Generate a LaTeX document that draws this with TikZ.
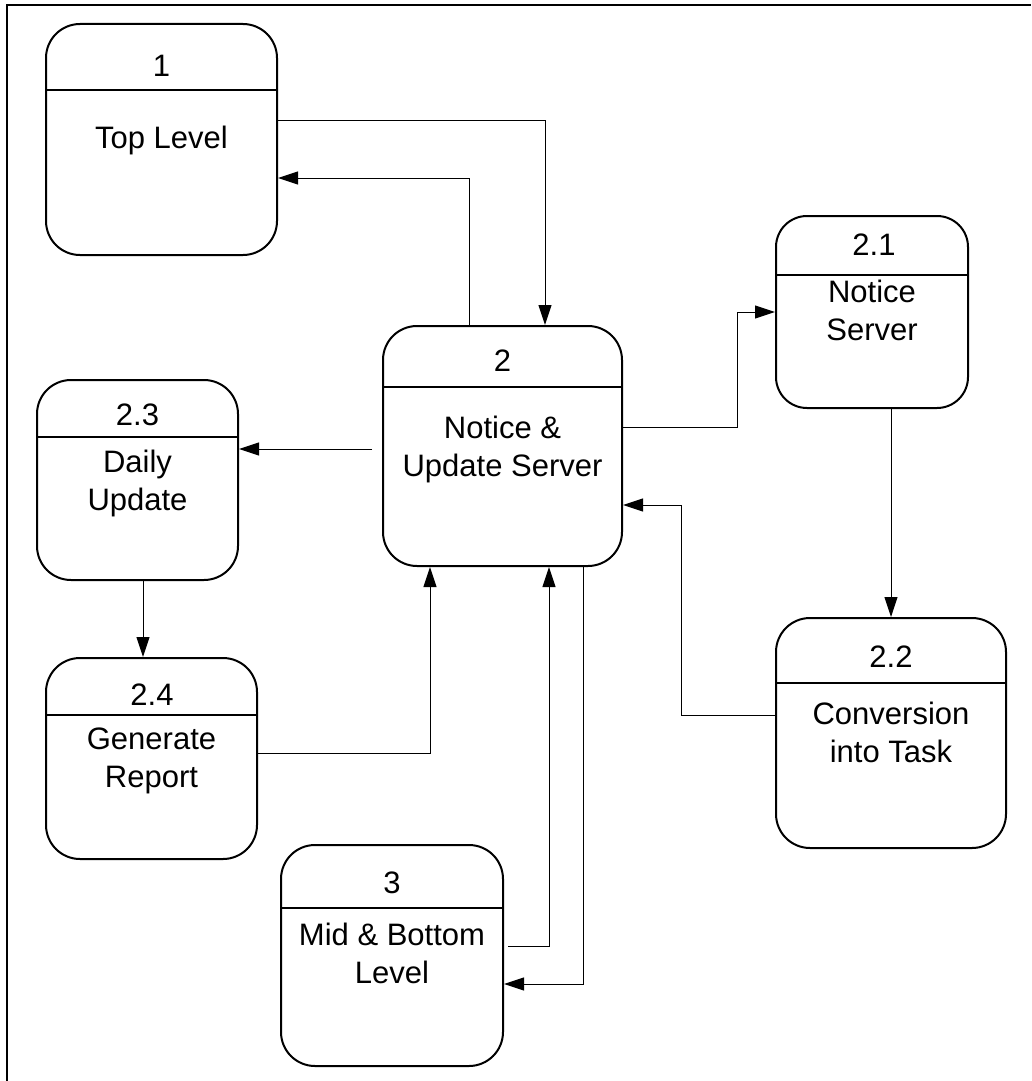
\documentclass[tikz,border=0pt]{standalone}
\usepackage{fontspec}
\setmainfont{Liberation Sans}
\usepackage{tikz}
\usetikzlibrary{arrows.meta,positioning}

\begin{document}
\begin{tikzpicture}[%
    x=1pt,
    y=-1pt,
    >={Triangle[length=20pt,width=13pt]},
    flow/.style={->, line width=1pt},
    proc/.style={%
      rectangle,
      rounded corners=34pt,
      line width=2pt,
      draw
    },
    num/.style={anchor=base, font=\fontsize{31}{38}\selectfont},
    txt/.style={anchor=base, align=center, font=\fontsize{31}{38}\selectfont}
  ]
    \useasboundingbox (0,0) rectangle (1031,1081);
    \draw[line width=2pt] (7,1081) -- (7,5) -- (1031,5);

    \node[proc, minimum width=231pt, minimum height=231pt] (1)  at (161.5,139.5) {};
    \node[proc, minimum width=239pt, minimum height=240pt] (2)  at (502.5,446)   {};
    \node[proc, minimum width=192pt, minimum height=192pt, rounded corners=31pt] (21) at (872,312) {};
    \node[proc, minimum width=230pt, minimum height=230pt] (22) at (891,733)     {};
    \node[proc, minimum width=201pt, minimum height=200pt] (23) at (137.5,480)   {};
    \node[proc, minimum width=211pt, minimum height=201pt] (24) at (151.5,758.5) {};
    \node[proc, minimum width=222pt, minimum height=221pt] (3)  at (392,955.5)   {};

    % header lines
    \draw[line width=1.5pt] (1.west |- 0,90)   -- (1.east |- 0,90);
    \draw[line width=1.5pt] (2.west |- 0,387)  -- (2.east |- 0,387);
    \draw[line width=1.5pt] (21.west |- 0,275) -- (21.east |- 0,275);
    \draw[line width=1.5pt] (22.west |- 0,683) -- (22.east |- 0,683);
    \draw[line width=1.5pt] (23.west |- 0,437) -- (23.east |- 0,437);
    \draw[line width=1.5pt] (24.west |- 0,715) -- (24.east |- 0,715);
    \draw[line width=1.5pt] (3.west |- 0,908)  -- (3.east |- 0,908);

    \node[num] (1n)  at (161.5,77)  {1};
    \node[num] (2n)  at (502.5,371) {2};
    \node[num] (21n) at (874,255)   {2.1};
    \node[num] (22n) at (891,667)   {2.2};
    \node[num] (23n) at (137.5,425) {2.3};
    \node[num] (24n) at (152,705)   {2.4};
    \node[num] (3n)  at (392,893)   {3};

    % base = last line
    \node[txt] (1t)  at (161.5,148) {Top Level};
    \node[txt] (2t)  at (502.5,476) {Notice \&\\Update Server};
    \node[txt] (21t) at (872,340)   {Notice\\Server};
    \node[txt] (22t) at (891,762)   {Conversion\\into Task};
    \node[txt] (23t) at (137.5,510) {Daily\\Update};
    \node[txt] (24t) at (151.5,787) {Generate\\Report};
    \node[txt] (3t)  at (392,983)   {Mid \& Bottom\\Level};

    \draw[flow] (1.east |- 0,120) -| ([xshift=42.5pt]2.north);
    \draw[flow] ([xshift=-33.5pt]2.north) |- (1.east |- 0,178);
    \draw[flow] (2.east |- 0,427) -- (737,427) |- (21.west);
    \draw[flow] (21.south -| 22.north) -- (22.north);
    \draw[flow] (22.west |- 0,715) -- (681,715) |- (2.east |- 0,505);
    \draw[flow] ([xshift=-10pt]2.west |- 0,449) -- (23.east |- 0,449);
    \draw[flow] (23.south -| 143,0) -- (24.north -| 143,0);
    \draw[flow] (24.east |- 0,753) -| (2.south -| 430,0);
    \draw[flow] ([xshift=4pt]3.east |- 0,946) -| (2.south -| 549,0);
    \draw[flow] (2.south -| 583,0) |- (3.east |- 0,984);
\end{tikzpicture}
\end{document}
